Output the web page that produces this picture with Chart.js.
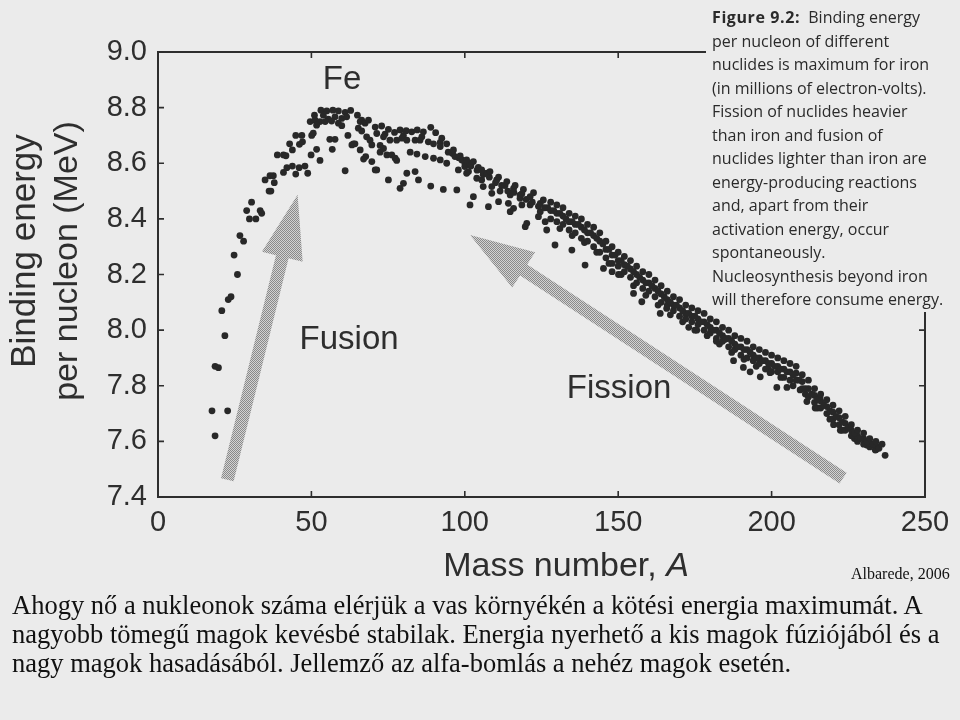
<!DOCTYPE html>
<html><head><meta charset="utf-8">
<script src="https://cdn.jsdelivr.net/npm/chart.js@4.4.1/dist/chart.umd.min.js"></script>
<style>
html,body{margin:0;padding:0;background:#ebebeb;}
#wrap{position:relative;width:960px;height:720px;overflow:hidden;background:#ebebeb;}
#chart{position:absolute;left:0;top:0;}
#caption{position:absolute;left:712px;top:6px;font-family:"Open Sans",sans-serif;font-size:16px;line-height:23.5px;color:#2a2a2a;white-space:nowrap;}
#caption b{font-weight:700;letter-spacing:0.6px;margin-right:4px;}
#credit{position:absolute;left:851px;top:565px;font-family:"Liberation Serif",serif;font-size:16px;color:#111;white-space:nowrap;}
#para{position:absolute;left:12px;top:591px;font-family:"Liberation Serif",serif;font-size:26.5px;line-height:29px;color:#111;white-space:nowrap;}
</style></head>
<body><div id="wrap">
<canvas id="chart" width="960" height="720"></canvas>
<div id="caption"><b>Figure 9.2:</b> Binding energy<br>per nucleon of different<br>nuclides is maximum for iron<br>(in millions of electron-volts).<br>Fission of nuclides heavier<br>than iron and fusion of<br>nuclides lighter than iron are<br>energy-producing reactions<br>and, apart from their<br>activation energy, occur<br>spontaneously.<br>Nucleosynthesis beyond iron<br>will therefore consume energy.</div>
<div id="credit">Albarede, 2006</div>
<div id="para">Ahogy nő a nukleonok száma elérjük a vas környékén a kötési energia maximumát. A<br>nagyobb tömegű magok kevésbé stabilak. Energia nyerhető a kis magok fúziójából és a<br>nagy magok hasadásából. Jellemző az alfa-bomlás a nehéz magok esetén.</div>
</div>
<script>
// ---- axis ticks ----
const xTicks = [0, 50, 100, 150, 200, 250];
const yTicks = [7.4, 7.6, 7.8, 8.0, 8.2, 8.4, 8.6, 8.8, 9.0];

// ---- light nuclides (A < ~52) ----
const lightA  = [17.6,18.6,22.7,18.6,19.7,21.8,20.8,22.9,23.8,25.9,24.8,26.7,27.9,28.9,29.8,30.5,31.9,33.3,33.8,34.9,36.2,36.8,36.5,37.6,37.9,38.9,40.9,41.7,42.9,43.8,44.9,46.9,46.1,47.1,40.9,42.0,43.8,44.9,46.0,47.9,48.8,49.9,51.7,52.8,50.1,50.6,49.6,51.2,51.7,51.0];
const lightBE = [7.71,7.62,7.71,7.87,7.865,7.98,8.07,8.11,8.12,8.20,8.27,8.34,8.32,8.43,8.40,8.46,8.40,8.43,8.42,8.54,8.50,8.50,8.555,8.555,8.53,8.63,8.63,8.627,8.67,8.648,8.70,8.70,8.668,8.677,8.567,8.584,8.59,8.561,8.584,8.59,8.564,8.63,8.65,8.61,8.70,8.708,8.75,8.755,8.737,8.773];

// ---- iron peak region ----
const peakA  = [53.1,55.0,57.0,58.8,61.0,62.8,53.9,55.5,57.7,59.9,61.5,52.8,54.5,56.6,58.8,59.9,56.0,57.7,56.8,61.9,63.2,64.2,61.0,65.0,65.9,66.4,67.5,68.6,65.3,66.4,68.0,69.1,65.9,67.7,67.0,69.7,70.8,63.7,72.4,73.5,76.2,77.3];
const peakBE = [8.791,8.788,8.791,8.788,8.783,8.79,8.773,8.759,8.767,8.761,8.767,8.75,8.75,8.752,8.744,8.735,8.686,8.686,8.65,8.70,8.666,8.67,8.573,8.773,8.75,8.755,8.744,8.755,8.726,8.716,8.695,8.683,8.648,8.624,8.615,8.606,8.576,8.67,8.664,8.653,8.63,8.618];

// ---- medium nuclides (A ~70-127), rows of isobars ----
const midTopA  = [70.8,72.9,75.1,77.1,78.9,80.9,82.7,84.5,86.5,88.9,90.5,92.5,94.1,96.3,98.5,100.6,102.8,105.5,108.2,111,113.7,116.4,119.1,122.4,125.6];
const midTopBE = [8.73,8.734,8.722,8.711,8.72,8.717,8.713,8.72,8.713,8.729,8.71,8.69,8.67,8.648,8.626,8.612,8.606,8.576,8.57,8.55,8.534,8.52,8.506,8.494,8.468];
const midSecondA  = [71.3,73.5,75.6,77.8,79.5,81.1,83.8,85.4,88.1,89.8,92,94.6,96.8,99,101.7,104.4,107.2,110.4,113.1,115.9,118.6,121.3,124.6];
const midSecondBE = [8.707,8.695,8.683,8.683,8.69,8.683,8.683,8.683,8.677,8.67,8.66,8.64,8.624,8.612,8.60,8.585,8.564,8.54,8.52,8.51,8.49,8.48,8.456];
const midCoreA  = [74,80,86,92,96,98,100,102,104,106,108,110,112,114,116,118,120,122,124,126];
const midCoreBE = [8.705,8.70,8.695,8.675,8.635,8.62,8.60,8.59,8.575,8.56,8.55,8.53,8.52,8.50,8.495,8.485,8.47,8.46,8.445,8.44];
const midThirdA  = [69.7,72.4,74.6,77.8,82.2,84.4,87.1,89.8,92,94.1,97.9,100.6,103.9,105.5,108.8,111.5,114.8,118,121.3];
const midThirdBE = [8.666,8.64,8.63,8.61,8.64,8.633,8.624,8.618,8.612,8.60,8.576,8.564,8.546,8.54,8.516,8.50,8.486,8.474,8.45];
const midLowA  = [71.3,75.1,78.9,80,81.1,83.8,84.9,88.9,93,97.4,100,101.2,102.8,101.7,106,107.7,108.8,111,114.2,115.9,114.8,118.6,119.7,120.2,124,126.2,126.7];
const midLowBE = [8.576,8.54,8.51,8.528,8.564,8.57,8.54,8.518,8.506,8.504,8.588,8.57,8.48,8.45,8.516,8.444,8.492,8.462,8.456,8.438,8.426,8.45,8.372,8.384,8.408,8.39,8.36];

// ---- heavy nuclides (A ~127-237) ----
const heavyTopA  = [128,130,132,134,136,138,140,142,144,146,148,150,152,154,156,158,160,162,164,166,168,170,172,174,176,178,180,182,184,186,188,190,192,194,196,198,200,202,204,206,208,210,212,214,216,218,220,222,224,226,228,230,232,234,236];
const heavyTopBE = [8.46,8.45,8.44,8.42,8.41,8.40,8.38,8.37,8.35,8.32,8.30,8.28,8.265,8.25,8.23,8.21,8.20,8.18,8.16,8.14,8.12,8.11,8.09,8.08,8.07,8.06,8.04,8.03,8.01,8.00,7.98,7.97,7.96,7.94,7.93,7.92,7.91,7.90,7.89,7.88,7.87,7.84,7.82,7.79,7.77,7.75,7.73,7.71,7.69,7.66,7.64,7.63,7.61,7.60,7.59];
const heavySecondA  = [127,129,131,133,135,137,139,141,143,145,147,149,151,153,155,157,159,161,163,165,167,169,171,173,175,177,179,181,183,185,187,189,191,193,195,197,199,201,203,205,207,209,211,213,215,217,219,221,223,225,227,229,231,233,235];
const heavySecondBE = [8.44,8.43,8.42,8.40,8.39,8.38,8.36,8.35,8.33,8.31,8.29,8.27,8.25,8.23,8.21,8.19,8.17,8.16,8.14,8.12,8.10,8.09,8.07,8.06,8.05,8.03,8.02,8.00,7.99,7.97,7.96,7.94,7.93,7.92,7.90,7.89,7.88,7.87,7.86,7.85,7.84,7.82,7.79,7.77,7.75,7.73,7.71,7.69,7.67,7.65,7.63,7.61,7.60,7.59,7.575];
const heavyCoreA  = [128,130,132,134,136,138,140,142,144,146,148,150,152,154,156,158,160,162,164,166,168,170,172,174,176,178,180,182,184,186,188,190,192,194,196,198,200,202,204,206,208,210,212,214,216,218,220,222,224,226,228,230,232,234];
const heavyCoreBE = [8.43,8.42,8.41,8.39,8.38,8.37,8.35,8.34,8.32,8.29,8.27,8.25,8.235,8.22,8.20,8.18,8.17,8.15,8.13,8.11,8.09,8.08,8.06,8.05,8.04,8.03,8.01,8.00,7.98,7.97,7.95,7.94,7.93,7.91,7.90,7.89,7.88,7.87,7.86,7.85,7.845,7.815,7.79,7.765,7.745,7.725,7.705,7.685,7.665,7.64,7.62,7.61,7.595,7.585];
const heavyThirdA  = [128,130,132,134,136,138,140,142,144,146,148,150,152,154,156,158,160,162,164,166,168,170,172,174,176,178,180,182,184,186,188,190,192,194,196,198,200,202,204,206,208,210,212,214,216,218,220,222,224,226,228,230,232,234];
const heavyThirdBE = [8.40,8.39,8.38,8.36,8.35,8.33,8.32,8.30,8.28,8.26,8.24,8.23,8.21,8.19,8.17,8.15,8.14,8.12,8.10,8.09,8.07,8.05,8.04,8.03,8.02,8.00,7.99,7.97,7.96,7.94,7.93,7.91,7.90,7.89,7.88,7.86,7.85,7.85,7.83,7.82,7.82,7.79,7.76,7.74,7.72,7.70,7.68,7.66,7.64,7.62,7.60,7.59,7.58,7.57];
const heavyFourthA  = [131,135,139,143,147,151,155,159,163,167,171,175,179,183,187,191,195,199,203,207,211,215,219,223,227];
const heavyFourthBE = [8.365,8.34,8.315,8.28,8.24,8.20,8.16,8.125,8.09,8.055,8.03,8.00,7.98,7.95,7.92,7.895,7.87,7.86,7.83,7.80,7.77,7.72,7.68,7.64,7.61];
const heavyLowA  = [124.6,129.4,134.9,139.2,145.2,148,150.1,155,157.7,163.7,165.8,173,175.6,182,184.9,187.6,190.8,193,196.3,199.5,201.7,205,209.3,211.5,214.2,215.8,220.2,222.4,231,233.8,237];
const heavyLowBE = [8.426,8.306,8.288,8.234,8.222,8.21,8.20,8.132,8.102,8.06,8.078,8.01,8.0,7.96,7.967,7.89,7.866,7.85,7.832,7.847,7.794,7.794,7.785,7.743,7.72,7.76,7.66,7.64,7.587,7.569,7.55];

// ---- annotations (data coordinates) ----
const fusionArrow  = {from: [22.6, 7.462], to: [45.5, 8.487]};
const fissionArrow = {from: [223.3, 7.468], to: [101.7, 8.342]};
const labelFe      = {text: 'Fe',      at: [60.0, 8.90]};
const labelFusion  = {text: 'Fusion',  at: [62.3, 7.965]};
const labelFission = {text: 'Fission', at: [150.3, 7.79]};

function pts(xs, ys) { return xs.map((x, i) => ({x: x, y: ys[i]})); }
const groups = [
  ['light', lightA, lightBE], ['peak', peakA, peakBE],
  ['midTop', midTopA, midTopBE], ['midSecond', midSecondA, midSecondBE],
  ['midCore', midCoreA, midCoreBE],
  ['midThird', midThirdA, midThirdBE], ['midLow', midLowA, midLowBE],
  ['heavyTop', heavyTopA, heavyTopBE], ['heavySecond', heavySecondA, heavySecondBE],
  ['heavyCore', heavyCoreA, heavyCoreBE],
  ['heavyThird', heavyThirdA, heavyThirdBE], ['heavyFourth', heavyFourthA, heavyFourthBE],
  ['heavyLow', heavyLowA, heavyLowBE]
];
const DOT = '#282828';
const datasets = groups.map(g => ({
  label: g[0], data: pts(g[1], g[2]),
  pointRadius: 3.4, pointBackgroundColor: DOT, pointBorderWidth: 0, showLine: false
}));

const FRAME = '#2e2e2e';
const SANS = '"Liberation Sans", Arial, sans-serif';

function makePattern(ctx) {
  const c = document.createElement('canvas'); c.width = 2; c.height = 2;
  const p = c.getContext('2d');
  p.fillStyle = '#d2d2d2'; p.fillRect(0, 0, 2, 2);
  p.fillStyle = '#8a8a8a'; p.fillRect(0, 0, 1, 1); p.fillRect(1, 1, 1, 1);
  return ctx.createPattern(c, 'repeat');
}
function drawArrow(ctx, x0, y0, x1, y1, shaftW, headW, headL) {
  const dx = x1 - x0, dy = y1 - y0, len = Math.hypot(dx, dy);
  const ux = dx / len, uy = dy / len, px = -uy, py = ux;
  const bx = x1 - ux * headL, by = y1 - uy * headL;
  ctx.beginPath();
  ctx.moveTo(x0 + px * shaftW / 2, y0 + py * shaftW / 2);
  ctx.lineTo(bx + px * shaftW / 2, by + py * shaftW / 2);
  ctx.lineTo(bx + px * headW / 2, by + py * headW / 2);
  ctx.lineTo(x1, y1);
  ctx.lineTo(bx - px * headW / 2, by - py * headW / 2);
  ctx.lineTo(bx - px * shaftW / 2, by - py * shaftW / 2);
  ctx.lineTo(x0 - px * shaftW / 2, y0 - py * shaftW / 2);
  ctx.closePath();
  ctx.fill();
}

const decor = {
  id: 'decor',
  beforeDatasetsDraw(chart) {
    const {ctx, scales: {x, y}} = chart;
    ctx.save();
    ctx.fillStyle = makePattern(ctx);
    [fusionArrow, fissionArrow].forEach(a => {
      drawArrow(ctx, x.getPixelForValue(a.from[0]), y.getPixelForValue(a.from[1]),
                x.getPixelForValue(a.to[0]), y.getPixelForValue(a.to[1]), 13, 42, 64);
    });
    ctx.restore();
  },
  afterDraw(chart) {
    const {ctx, chartArea: ca, scales: {x, y}} = chart;
    ctx.save();
    // frame (partly hidden behind the caption at top-right)
    ctx.strokeStyle = FRAME; ctx.lineWidth = 2; ctx.lineCap = 'square';
    const topEnd = 705, rightStart = 313;
    ctx.beginPath();
    ctx.moveTo(ca.left, ca.top); ctx.lineTo(ca.left, ca.bottom); ctx.lineTo(ca.right, ca.bottom);
    ctx.lineTo(ca.right, rightStart);
    ctx.moveTo(ca.left, ca.top); ctx.lineTo(topEnd, ca.top);
    ctx.stroke();
    // inward ticks
    ctx.lineWidth = 1.6; ctx.lineCap = 'butt';
    const T = 6;
    ctx.beginPath();
    yTicks.forEach(v => {
      const py = y.getPixelForValue(v);
      ctx.moveTo(ca.left, py); ctx.lineTo(ca.left + T, py);
      if (py > rightStart + 4 && py < ca.bottom - 2) { ctx.moveTo(ca.right, py); ctx.lineTo(ca.right - T, py); }
    });
    xTicks.forEach(v => {
      const px = x.getPixelForValue(v);
      if (px > ca.left + 2 && px < ca.right - 2) {
        ctx.moveTo(px, ca.bottom); ctx.lineTo(px, ca.bottom - T);
        if (px < topEnd - 4) { ctx.moveTo(px, ca.top); ctx.lineTo(px, ca.top + T); }
      }
    });
    ctx.stroke();
    // annotation labels
    ctx.fillStyle = '#2e2e2e';
    ctx.textAlign = 'center'; ctx.textBaseline = 'middle';
    ctx.font = '33px ' + SANS;
    [labelFe, labelFusion, labelFission].forEach(l => {
      ctx.fillText(l.text, x.getPixelForValue(l.at[0]), y.getPixelForValue(l.at[1]));
    });
    // x-axis title with italic A
    const t1 = 'Mass number, ', t2 = 'A';
    ctx.font = '34px ' + SANS;
    const w1 = ctx.measureText(t1).width;
    ctx.font = 'italic 34px ' + SANS;
    const w2 = ctx.measureText(t2).width;
    const sx = 566 - (w1 + w2) / 2, ty = 567;
    ctx.textAlign = 'left';
    ctx.font = '34px ' + SANS; ctx.fillText(t1, sx, ty);
    ctx.font = 'italic 34px ' + SANS; ctx.fillText(t2, sx + w1, ty);
    // y-axis title (two rotated lines)
    ctx.textAlign = 'center';
    ctx.font = '35px ' + SANS;
    ctx.save(); ctx.translate(25, 251); ctx.rotate(-Math.PI / 2); ctx.fillText('Binding energy', 0, 0); ctx.restore();
    ctx.font = '34px ' + SANS;
    ctx.save(); ctx.translate(68, 261); ctx.rotate(-Math.PI / 2); ctx.fillText('per nucleon (MeV)', 0, 0); ctx.restore();
    ctx.restore();
  }
};

new Chart(document.getElementById('chart'), {
  type: 'scatter',
  data: {datasets: datasets},
  options: {
    responsive: false, animation: false, devicePixelRatio: 1,
    layout: {padding: {left: 0, top: 52, right: 35, bottom: 0}},
    plugins: {legend: {display: false}, tooltip: {enabled: false}},
    scales: {
      x: {
        type: 'linear', min: 0, max: 250,
        afterFit: s => { s.height = 223; },
        afterBuildTicks: s => { s.ticks = xTicks.map(v => ({value: v})); },
        grid: {display: false, drawTicks: false}, border: {display: false},
        ticks: {color: '#2e2e2e', padding: 9, font: {family: SANS, size: 29}, maxRotation: 0}
      },
      y: {
        type: 'linear', min: 7.4, max: 9.0,
        afterFit: s => { s.width = 158; },
        afterBuildTicks: s => { s.ticks = yTicks.map(v => ({value: v})); },
        grid: {display: false, drawTicks: false}, border: {display: false},
        ticks: {color: '#2e2e2e', padding: 11, font: {family: SANS, size: 29},
                callback: v => Number(v).toFixed(1)}
      }
    }
  },
  plugins: [decor]
});
</script>
</body></html>
